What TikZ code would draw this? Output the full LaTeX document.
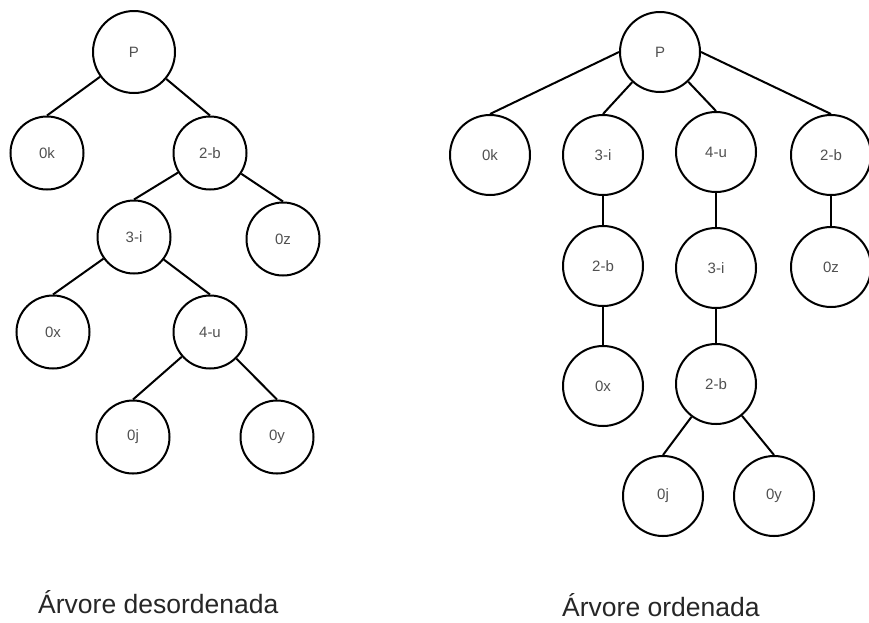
\documentclass[tikz,border=0pt]{standalone}
\usepackage{fontspec}
\setmainfont{Liberation Sans}
\definecolor{txtgray}{HTML}{505050}
\begin{document}
\begin{tikzpicture}[x=1pt,y=-1pt,
  sn/.style={circle,draw=black,line width=2pt,inner sep=0pt,minimum size=73pt,
    font=\fontsize{15}{17}\selectfont,text=txtgray},
  bn/.style={sn,minimum size=80pt},
  pn/.style={sn,minimum size=82pt},
  edge/.style={line width=2pt,draw=black},
  lbl/.style={anchor=base west,inner sep=0pt,font=\fontsize{26.5}{30}\selectfont,text=black!85}]
\useasboundingbox (0,0) rectangle (869,622);
% left tree
\node[pn] (lP) at (134,52) {P};
\node[sn] (l0k) at (47,153) {0k};
\node[sn] (l2b) at (210,153) {2-b};
\node[sn] (l3i) at (134,237) {3-i};
\node[sn] (l0z) at (283,239) {0z};
\node[sn] (l0x) at (53,332) {0x};
\node[sn] (l4u) at (210,332) {4-u};
\node[sn] (l0j) at (133,437) {0j};
\node[sn] (l0y) at (277,437) {0y};
\draw[edge] (lP) -- (l0k.north);
\draw[edge] (lP) -- (l2b.north);
\draw[edge] (l2b) -- (l3i.north);
\draw[edge] (l2b) -- (l0z.north);
\draw[edge] (l3i) -- (l0x.north);
\draw[edge] (l3i) -- (l4u.north);
\draw[edge] (l4u) -- (l0j.north);
\draw[edge] (l4u) -- (l0y.north);
% right tree
\node[bn] (rP) at (660,52) {P};
\node[bn] (r0k) at (490,155) {0k};
\node[bn] (r3i) at (603,155) {3-i};
\node[bn] (r4u) at (716,152) {4-u};
\node[bn] (r2b) at (831,155) {2-b};
\node[bn] (r2bb) at (603,266) {2-b};
\node[bn] (r3ii) at (716,268) {3-i};
\node[bn] (r0z) at (831,267) {0z};
\node[bn] (r0x) at (603,386) {0x};
\node[bn] (r2bc) at (716,384) {2-b};
\node[bn] (r0j) at (663,496) {0j};
\node[bn] (r0y) at (774,496) {0y};
\draw[edge] (rP.west) -- (r0k.north);
\draw[edge] (rP) -- (r3i.north);
\draw[edge] (rP) -- (r4u.north);
\draw[edge] (rP.east) -- (r2b.north);
\draw[edge] (r3i) -- (r2bb);
\draw[edge] (r4u) -- (r3ii);
\draw[edge] (r2b) -- (r0z);
\draw[edge] (r2bb) -- (r0x);
\draw[edge] (r3ii) -- (r2bc);
\draw[edge] (r2bc) -- (r0j.north);
\draw[edge] (r2bc) -- (r0y.north);
% captions
\node[lbl] (capL) at (38,613) {Árvore desordenada};
\node[lbl] (capR) at (562,616) {Árvore ordenada};
\end{tikzpicture}
\end{document}
